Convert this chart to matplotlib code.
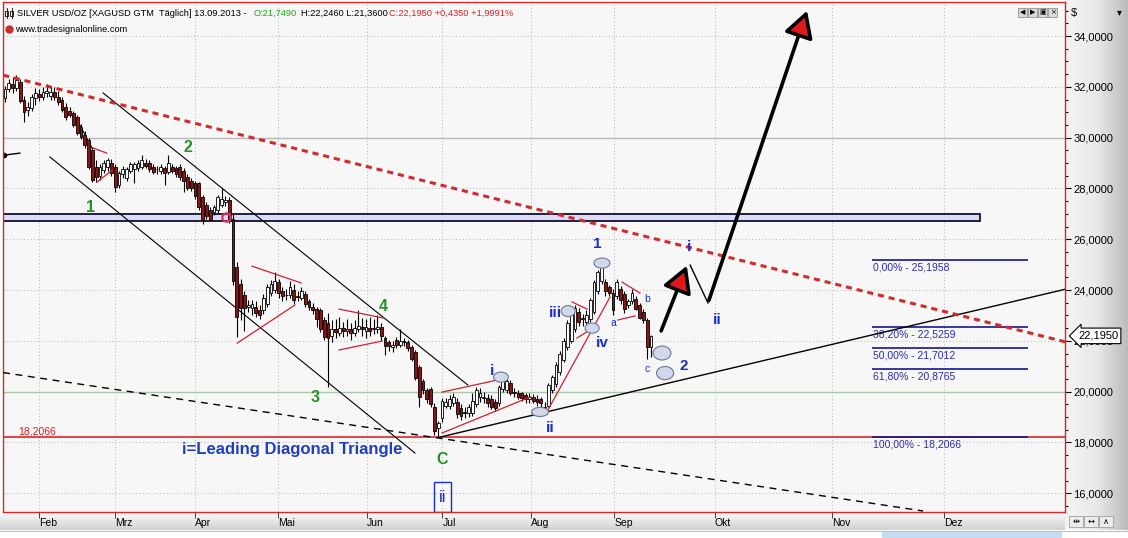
import numpy as np
import matplotlib.pyplot as plt
from matplotlib.patches import Rectangle, Ellipse, FancyArrowPatch
from matplotlib.colors import LinearSegmentedColormap
from matplotlib.ticker import MultipleLocator, FuncFormatter

plt.rcParams['font.family'] = ['Liberation Sans', 'DejaVu Sans']

# daily candles XAGUSD, one per trading day (17.01.2013 - 13.09.2013)
opens = [31.55, 31.90, 32.10, 31.95, 32.20, 31.50, 31.10, 31.15, 31.55, 31.70,
         31.60, 31.75, 31.62, 31.78, 31.60, 31.48, 31.20, 31.05, 30.97, 30.80,
         30.40, 30.10, 29.90, 29.50, 28.85, 28.50, 28.72, 28.84, 29.00, 28.85,
         28.13, 28.55, 28.40, 28.70, 28.75, 28.80, 28.85, 29.00, 29.00, 28.85,
         28.75, 28.70, 28.80, 28.65, 28.85, 28.80, 28.85, 28.70, 28.45, 28.30,
         28.20, 28.20, 27.65, 27.35, 27.15, 27.07, 27.15, 27.35, 27.45, 27.55,
         26.80, 24.90, 24.25, 23.80, 23.35, 23.30, 23.35, 23.20, 23.20, 23.45,
         23.90, 24.00, 24.30, 23.95, 23.80, 23.80, 24.00, 23.75, 23.70, 23.85,
         23.55, 23.35, 23.25, 23.20, 22.80, 22.70, 22.20, 22.45, 22.30, 22.50,
         22.40, 22.45, 22.30, 22.45, 22.55, 22.40, 22.50, 22.45, 22.45, 22.55,
         22.10, 21.95, 21.75, 22.05, 21.85, 22.00, 21.95, 21.75, 21.55, 20.95,
         20.40, 20.05, 20.10, 19.40, 18.55, 18.95, 19.45, 19.45, 19.55, 19.60,
         19.35, 19.20, 19.15, 19.15, 19.50, 19.80, 19.75, 19.75, 19.70, 19.60,
         19.55, 20.10, 20.05, 20.35, 20.00, 19.95, 19.95, 19.85, 19.70, 19.80,
         19.70, 19.70, 19.40, 19.45, 20.06, 20.30, 20.77, 21.25, 21.75, 22.00,
         22.45, 23.15, 22.85, 22.75, 22.85, 23.15, 23.95, 24.35, 24.30, 24.10,
         23.90, 23.75, 24.05, 23.85, 23.40, 23.55, 23.65, 23.40, 23.15, 22.80,
         21.749]
highs = [32.05, 32.30, 32.40, 32.45, 32.30, 31.65, 31.40, 31.70, 31.95, 31.90,
         32.00, 32.10, 32.05, 32.00, 31.85, 31.60, 31.35, 31.20, 31.05, 30.90,
         30.55, 30.25, 30.00, 29.65, 29.10, 28.95, 29.10, 29.20, 29.15, 28.95,
         28.70, 28.90, 28.85, 29.05, 29.05, 29.10, 29.30, 29.15, 29.10, 28.95,
         28.90, 28.95, 28.90, 29.30, 28.95, 28.90, 28.95, 28.80, 28.55, 28.40,
         28.30, 28.25, 27.75, 27.45, 27.25, 27.35, 27.75, 28.00, 27.70, 27.65,
         27.00, 25.10, 24.45, 23.95, 23.60, 23.60, 23.55, 23.40, 23.85, 24.25,
         24.40, 24.70, 24.45, 24.10, 24.05, 24.35, 24.25, 23.95, 24.10, 23.95,
         23.65, 23.50, 23.35, 23.30, 22.95, 23.10, 22.80, 22.85, 22.95, 22.75,
         22.85, 22.70, 22.80, 23.20, 22.90, 22.85, 22.95, 22.85, 23.00, 22.70,
         22.20, 22.05, 22.00, 22.15, 22.45, 22.10, 22.05, 21.85, 21.65, 21.05,
         20.50, 20.15, 20.20, 19.55, 18.85, 19.75, 19.75, 19.85, 19.95, 19.75,
         19.50, 19.40, 19.50, 19.95, 20.20, 20.15, 20.00, 19.90, 19.85, 19.70,
         20.25, 20.65, 20.50, 20.45, 20.15, 20.05, 20.00, 19.95, 19.95, 19.90,
         19.85, 19.80, 19.60, 20.35, 20.65, 21.15, 21.60, 22.10, 22.80, 23.30,
         23.40, 23.30, 23.05, 23.20, 23.70, 24.40, 24.80, 25.10, 24.45, 24.20,
         24.05, 24.45, 24.15, 23.95, 23.65, 24.05, 23.75, 23.50, 23.25, 22.90,
         22.246]
lows = [31.40, 31.80, 31.75, 31.85, 31.35, 30.60, 30.85, 31.05, 31.30, 31.45,
        31.50, 31.60, 31.50, 31.50, 31.30, 31.00, 30.70, 30.80, 30.40, 30.10,
        29.95, 29.60, 28.75, 28.25, 28.25, 28.35, 28.60, 28.70, 28.50, 27.85,
        28.00, 28.40, 28.30, 28.60, 28.20, 28.70, 28.75, 28.80, 28.65, 28.55,
        28.55, 28.55, 28.15, 28.55, 28.60, 28.45, 28.35, 27.85, 27.95, 27.90,
        27.60, 27.15, 26.60, 26.80, 26.70, 26.95, 27.05, 27.25, 27.30, 26.65,
        24.20, 22.15, 22.80, 22.40, 23.15, 23.00, 22.95, 22.85, 23.05, 23.35,
        23.75, 23.90, 23.70, 23.55, 23.60, 23.70, 23.45, 23.55, 23.60, 23.35,
        23.20, 23.05, 22.55, 22.35, 22.05, 20.20, 21.95, 22.10, 22.20, 22.15,
        22.20, 22.05, 22.20, 22.35, 22.20, 22.10, 22.20, 22.25, 22.30, 22.00,
        21.45, 21.60, 21.55, 21.70, 21.75, 21.80, 21.60, 21.20, 20.45, 19.40,
        19.90, 19.55, 19.40, 18.30, 18.21, 18.80, 19.35, 19.30, 19.45, 18.95,
        18.90, 18.95, 19.00, 19.05, 19.40, 19.60, 19.55, 19.40, 19.30, 19.25,
        19.45, 20.00, 19.95, 19.85, 19.80, 19.70, 19.65, 19.55, 19.55, 19.55,
        19.45, 19.20, 19.15, 19.40, 19.95, 20.20, 20.65, 21.15, 21.65, 21.90,
        22.35, 22.60, 22.60, 22.65, 22.75, 23.05, 23.85, 24.25, 23.75, 23.75,
        23.00, 23.65, 23.45, 23.10, 23.30, 23.45, 23.20, 22.85, 22.70, 21.30,
        21.36]
closes = [31.90, 32.15, 31.95, 32.25, 31.45, 31.00, 31.20, 31.60, 31.75, 31.60,
          31.80, 31.85, 31.80, 31.58, 31.40, 31.10, 30.80, 30.90, 30.50, 30.18,
          30.02, 29.70, 28.85, 28.35, 28.45, 28.85, 29.00, 29.10, 28.60, 28.05,
          28.60, 28.75, 28.75, 28.95, 28.95, 29.00, 29.10, 28.90, 28.75, 28.65,
          28.75, 28.85, 28.60, 29.00, 28.70, 28.55, 28.45, 28.30, 28.00, 28.00,
          27.70, 27.25, 26.75, 26.90, 26.75, 27.27, 27.66, 27.60, 27.55, 26.70,
          24.35, 22.95, 23.30, 23.30, 23.40, 23.45, 23.10, 23.00, 23.70, 24.10,
          24.25, 24.35, 23.90, 23.75, 23.82, 24.10, 23.60, 23.72, 23.95, 23.45,
          23.35, 23.20, 22.85, 22.45, 22.15, 22.10, 22.45, 22.35, 22.50, 22.40,
          22.45, 22.30, 22.50, 22.60, 22.45, 22.55, 22.40, 22.50, 22.55, 22.20,
          21.80, 21.80, 21.85, 21.85, 22.00, 21.95, 21.70, 21.30, 20.55, 19.80,
          20.05, 19.70, 19.50, 18.45, 18.75, 19.65, 19.60, 19.70, 19.80, 19.10,
          19.05, 19.15, 19.40, 19.65, 20.05, 19.95, 19.80, 19.55, 19.40, 19.35,
          20.20, 20.55, 20.40, 19.95, 19.95, 19.80, 19.75, 19.70, 19.80, 19.65,
          19.60, 19.55, 19.35, 20.26, 20.57, 21.05, 21.50, 22.00, 22.70, 23.20,
          23.30, 22.75, 22.90, 23.00, 23.60, 24.30, 24.70, 24.90, 23.95, 23.90,
          23.20, 24.30, 23.60, 23.25, 23.55, 23.90, 23.25, 22.90, 22.80, 21.75,
          22.195]

months = ['Feb', 'Mrz', 'Apr', 'Mai', 'Jun', 'Jul', 'Aug', 'Sep', 'Okt', 'Nov', 'Dez']
month_pos = [9.0, 28.9, 50.0, 71.9, 95.2, 115.1, 138.3, 160.3, 186.8, 217.7, 247.2]

fib_names = ['0,00% - 25,1958', '38,20% - 22,5259', '50,00% - 21,7012',
             '61,80% - 20,8765', '100,00% - 18,2066']
fib_levels = [25.1958, 22.5259, 21.7012, 20.8765, 18.2066]
last_close = 22.195
low_level = 18.2066

# drawn trend lines (bar index, price)
resist_x, resist_y = [-0.5, 279.0], [32.46, 21.96]
chan_up_x, chan_up_y = [25.8, 121.8], [31.76, 20.26]
chan_lo_x, chan_lo_y = [11.8, 107.9], [29.24, 17.58]
long_x, long_y = [-0.5, 241.6], [20.75, 15.30]
support_x, support_y = [114.5, 279.0], [18.21, 24.03]
feb_edge_x, feb_edge_y = [19.0, 22.9], [30.69, 29.59]
red_lines = [([23.2, 26.8], [29.59, 29.39]), ([24.2, 28.2], [28.25, 28.72]),
             ([65.0, 77.9], [24.94, 24.28]), ([61.1, 76.3], [21.91, 23.41]),
             ([87.9, 99.5], [23.25, 22.90]), ([87.9, 99.2], [21.64, 21.99]),
             ([115.0, 132.1], [19.98, 20.54]), ([115.0, 138.2], [18.37, 19.79]),
             ([142.6, 159.2], [19.20, 23.72]),
             ([149.2, 153.2], [23.53, 23.25]), ([150.5, 154.7], [22.11, 22.50]),
             ([162.4, 167.1], [24.31, 23.88]), ([161.3, 165.8], [22.82, 22.98])]
zone_lo, zone_hi, zone_end = 26.72, 26.99, 256.6

ellipses = [(157.1, 25.06, 4.2, 0.40), (148.2, 23.17, 3.7, 0.43),
            (154.5, 22.50, 3.7, 0.40), (130.5, 20.57, 3.9, 0.40),
            (140.8, 19.20, 4.4, 0.36), (172.9, 21.52, 4.7, 0.55),
            (173.7, 20.73, 4.5, 0.52)]

green_labels = [('1', 22.4, 27.23), ('2', 48.2, 29.63), ('3', 81.6, 19.75),
                ('4', 99.5, 23.37), ('C', 115.0, 17.31)]
blue_labels = [('1', 155.8, 25.81), ('i', 128.2, 20.81), ('ii', 143.4, 18.57),
               ('iii', 144.9, 23.09), ('iv', 157.1, 21.91), ('2', 178.7, 21.0),
               ('i', 180.0, 25.69), ('ii', 187.4, 22.80)]
small_labels = [('a', 160.0, 22.70), ('b', 168.9, 23.65), ('c', 168.9, 20.89)]

W, H = 1128, 538
fig = plt.figure(figsize=(W / 100, H / 100), dpi=100)
fig.patch.set_facecolor('white')

# window chrome (pixel coordinates)
bg = fig.add_axes([0, 0, 1, 1], zorder=-5)
side = LinearSegmentedColormap.from_list('side', ['#f4f4f4', '#e9e9e9', '#bcbcbc'])
bg.imshow(np.linspace(0, 1, 64)[None, :], extent=(1065, W, 530, 0), cmap=side, aspect='auto')
strip = LinearSegmentedColormap.from_list('strip', ['#fbfbfb', '#d2d2d2'])
bg.imshow(np.linspace(0, 1, 18)[:, None], extent=(0, 1065, 530, 512), cmap=strip, aspect='auto')
bg.add_patch(Rectangle((882, 532), 180, 6, fc='#c6dcf2', ec='none'))
bg.plot([0, W], [530.5, 530.5], color='#b0b0b0', lw=0.6)
bg.set_xlim(0, W)
bg.set_ylim(H, 0)
bg.axis('off')

ax = fig.add_axes([3 / W, 1 - 512 / H, 1062 / W, 510 / H])
ax.set_facecolor('#f7f7f7')
ax.set_xlim(-0.53, 278.95)
ax.set_ylim(15.26, 35.34)

o, h, l, c = map(np.array, (opens, highs, lows, closes))
x = np.arange(len(c))
up = c >= o
ax.vlines(x, l, h, color='black', lw=0.8, zorder=4)
ax.bar(x[up], (c - o)[up], bottom=o[up], width=0.75, color='white',
       edgecolor='black', lw=0.6, zorder=5)
ax.bar(x[~up], (o - c)[~up], bottom=c[~up], width=0.75, color='#8e1414',
       edgecolor='black', lw=0.6, zorder=5)

# grid and axes
ax.set_yticks(np.arange(16, 35, 2))
ax.yaxis.set_minor_locator(MultipleLocator(0.5))
ax.yaxis.tick_right()
ax.yaxis.set_major_formatter(FuncFormatter(lambda v, p: f'{v:.4f}'.replace('.', ',')))
ax.tick_params(axis='y', which='major', direction='out', length=4, width=0.8,
               color='black', labelsize=8, pad=2)
ax.tick_params(axis='y', which='minor', direction='out', length=2.5, width=0.8, color='black')
ax.set_xticks(month_pos)
ax.set_xticklabels(months, ha='left', fontsize=7.5)
ax.tick_params(axis='x', direction='out', length=4, width=0.7, color='#404040', pad=0.5)
ax.grid(color='#b5b5b5', ls=(0, (1, 2.5)), lw=0.7)
ax.set_axisbelow(True)
ax.axhline(30, color='#b8b8b8', lw=1.0, zorder=1)
ax.axhline(20, color='#a8c8a8', lw=1.0, zorder=1)
for s in ax.spines.values():
    s.set_color('#e02424')
    s.set_linewidth(1.0)

# zone and horizontal lines
ax.add_patch(Rectangle((-0.53, zone_lo), zone_end + 0.53, zone_hi - zone_lo,
                       fc='#dcdcf4', ec='#101030', lw=1.3, zorder=2))
ax.axhline(low_level, color='#e02424', lw=1.2, zorder=2)
ax.text(3.4, 18.41, '18,2066', color='#e02020', fontsize=7.5, va='center')
for name, lvl in zip(fib_names, fib_levels):
    ax.hlines(lvl, 228.2, 269.2, color='#16168f', lw=1.2, zorder=3)
    ax.text(228.4, lvl - 0.1, name, color='#2b2bb8', fontsize=7.5, va='top')

# trend lines
ax.plot(resist_x, resist_y, color='#d62a2a', lw=2.2, dashes=(2, 1.6), zorder=6)
ax.plot(chan_up_x, chan_up_y, color='black', lw=0.8, zorder=3)
ax.plot(chan_lo_x, chan_lo_y, color='black', lw=0.8, zorder=3)
ax.plot(long_x, long_y, color='black', lw=1.0, dashes=(5, 4), zorder=3)
ax.plot(support_x, support_y, color='black', lw=1.0, zorder=3)
ax.plot(feb_edge_x, feb_edge_y, color='black', lw=0.8, zorder=3)
for lx, ly in red_lines:
    ax.plot(lx, ly, color='#d02030', lw=0.9, zorder=6)

for cx, cy, ew, eh in ellipses:
    ax.add_patch(Ellipse((cx, cy), ew, eh, fc='#d3d7ea', ec='#6a7a9a', lw=0.8, zorder=7))

ax.plot(58.2, 26.87, 'o', ms=6, mfc='none', mec='#e0306a', mew=1.6, zorder=7)
ax.plot([-0.2, 3.9], [29.31, 29.39], color='black', lw=1)
ax.plot(-0.2, 29.31, 'o', ms=3, color='black')

# projection arrows
ax.add_patch(FancyArrowPatch((172.4, 22.29), (179.7, 25.06),
                             arrowstyle='-|>,head_length=0.8,head_width=0.45',
                             mutation_scale=20, lw=2.6, ec='black', fc='#e01818', zorder=8))
ax.plot([180.3, 185.0], [24.98, 23.49], color='black', lw=1, zorder=8)
ax.add_patch(FancyArrowPatch((185.0, 23.49), (211.3, 35.10),
                             arrowstyle='-|>,head_length=0.8,head_width=0.45',
                             mutation_scale=20, lw=2.6, ec='black', fc='#e01818', zorder=8))

# wave labels
for t, lx, ly in green_labels:
    ax.text(lx, ly, t, color='#259025', fontsize=11.5, fontweight='bold',
            ha='center', va='center', zorder=9)
for t, lx, ly in blue_labels:
    ax.text(lx, ly, t, color='#1b2fc8', fontsize=11, fontweight='bold',
            ha='center', va='center', zorder=9)
for t, lx, ly in small_labels:
    ax.text(lx, ly, t, color='#1b2fc8', fontsize=7.5, ha='center', va='center', zorder=9)
ax.add_patch(Rectangle((112.9, 15.26), 4.5, 1.18, fill=False, ec='#1b2fc8', lw=1, zorder=9))
ax.text(115.15, 15.85, 'ii', color='#1b2fc8', fontsize=12, ha='center', va='center', zorder=9)
ax.text(75.5, 17.74, 'i=Leading Diagonal Triangle', fontsize=12, fontweight='bold',
        color='#1f3fc0', ha='center', va='center', zorder=9)

ax.text(1.0122, last_close, f'{last_close:.4f}'.replace('.', ','),
        transform=ax.get_yaxis_transform(), fontsize=8, va='center', ha='left',
        bbox=dict(boxstyle='larrow,pad=0.25', fc='white', ec='black', lw=0.8),
        zorder=10, clip_on=False)

# header and window controls
ov = fig.add_axes([0, 0, 1, 1], zorder=10)
ov.set_xlim(0, W)
ov.set_ylim(H, 0)
ov.axis('off')
ov.patch.set_alpha(0)
hs = 6.7
ov.text(17, 13, 'SILVER USD/OZ [XAGUSD GTM  Täglich] 13.09.2013 - ', fontsize=hs, va='center')
ov.text(254, 13, 'O:21,7490', fontsize=hs, va='center', color='#20a820')
ov.text(301, 13, 'H:22,2460 L:21,3600', fontsize=hs, va='center')
ov.text(389, 13, 'C:22,1950 +0,4350 +1,9991%', fontsize=hs, va='center', color='#e02020')
ov.text(15, 29, 'www.tradesignalonline.com', fontsize=hs, va='center')
for bx in (5, 10):
    ov.plot([bx + 1.5, bx + 1.5], [8, 18], color='black', lw=0.6)
    ov.add_patch(Rectangle((bx, 10.5), 3, 5, fc='white', ec='black', lw=0.6))
ov.plot(9, 29, 'o', ms=5, color='#c83030')
ov.text(1071, 13, '$', fontsize=8, va='center')
ov.text(1117, 12, '▾', fontsize=7, va='center', family='DejaVu Sans')
for k, g in enumerate(['◀', '▶', '▣', '×']):
    ov.add_patch(Rectangle((1018 + 10 * k, 8), 9, 9, fc='#dadada', ec='#808080', lw=0.5))
    ov.text(1022.5 + 10 * k, 12.5, g, fontsize=5, ha='center', va='center', family='DejaVu Sans')
for k, g in enumerate(['⇹', '↔', '∧']):
    ov.add_patch(Rectangle((1069 + 15 * k, 516), 14, 11, fc='#ececec', ec='#909090', lw=0.5))
    ov.text(1076 + 15 * k, 521.5, g, fontsize=6, ha='center', va='center', family='DejaVu Sans')

fig.savefig('out.png', dpi=100)
